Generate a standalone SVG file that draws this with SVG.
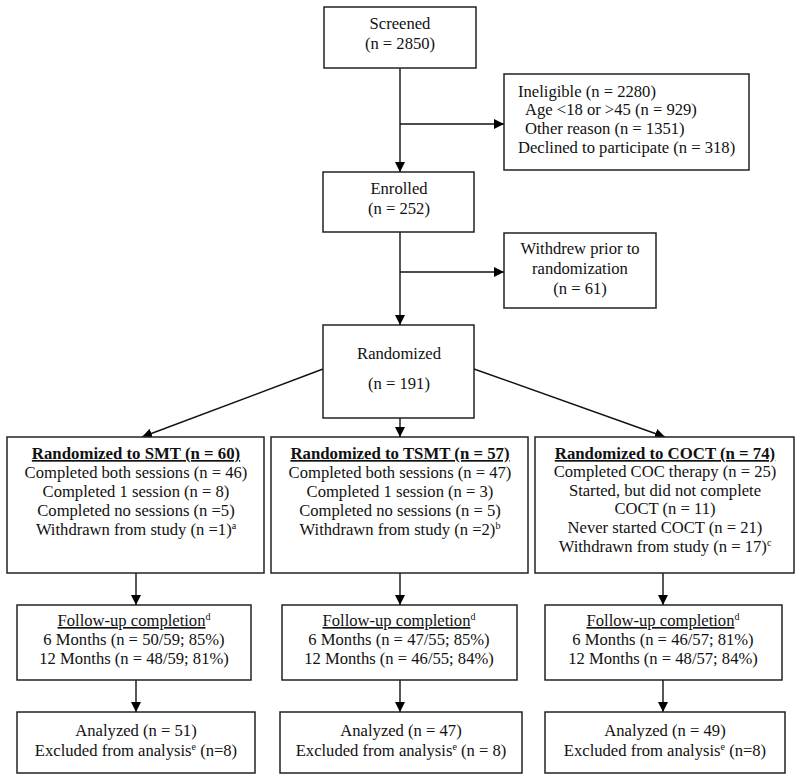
<svg xmlns="http://www.w3.org/2000/svg" width="800" height="782" viewBox="0 0 800 782">
<defs>
<marker id="ah" viewBox="0 0 10 10" refX="10" refY="5" markerWidth="10" markerHeight="10" markerUnits="userSpaceOnUse" orient="auto">
<path d="M0,0 L10,5 L0,10 Z" fill="#000"/>
</marker>
</defs>
<style>
.box{fill:#fff;stroke:#222;stroke-width:1.5}
text{font-family:"Liberation Serif","Times New Roman",serif;font-size:16.6px;fill:#111}
.c{text-anchor:middle}
.b{font-weight:bold;font-size:16.8px;text-decoration:underline}
.u{text-decoration:underline}
.sup{font-size:10px}
#connectors line{stroke:#111;stroke-width:1.4;fill:none}
.arr{marker-end:url(#ah)}
</style>
<g id="connectors">
<line x1="400" y1="68" x2="400" y2="172" class="arr"/>
<line x1="400" y1="124" x2="504" y2="124" class="arr"/>
<line x1="400" y1="232" x2="400" y2="325" class="arr"/>
<line x1="400" y1="272" x2="504" y2="272" class="arr"/>
<line x1="323" y1="369" x2="142" y2="437" class="arr"/>
<line x1="400" y1="418" x2="400" y2="437" class="arr"/>
<line x1="474" y1="369" x2="665" y2="437" class="arr"/>
<line x1="136" y1="573" x2="136" y2="605" class="arr"/>
<line x1="400" y1="573" x2="400" y2="605" class="arr"/>
<line x1="663" y1="573" x2="663" y2="605" class="arr"/>
<line x1="136" y1="680" x2="136" y2="712" class="arr"/>
<line x1="400" y1="680" x2="400" y2="712" class="arr"/>
<line x1="663" y1="680" x2="663" y2="712" class="arr"/>
</g>
<g id="screened">
<rect class="box" x="324" y="7" width="152" height="61"/>
<text class="c" x="400" y="29">Screened</text>
<text class="c" x="400" y="49">(n = 2850)</text>
</g>
<g id="ineligible">
<rect class="box" x="504" y="74" width="245" height="96"/>
<text x="518" y="97">Ineligible (n = 2280)</text>
<text x="525" y="115">Age &lt;18 or &gt;45 (n = 929)</text>
<text x="525" y="134">Other reason (n = 1351)</text>
<text x="518" y="153">Declined to participate (n = 318)</text>
</g>
<g id="enrolled">
<rect class="box" x="323" y="172" width="151" height="60"/>
<text class="c" x="399" y="194">Enrolled</text>
<text class="c" x="399" y="214">(n = 252)</text>
</g>
<g id="withdrew">
<rect class="box" x="504" y="233" width="152" height="75"/>
<text class="c" x="580" y="254">Withdrew prior to</text>
<text class="c" x="580" y="274">randomization</text>
<text class="c" x="580" y="294">(n = 61)</text>
</g>
<g id="randomized">
<rect class="box" x="323" y="325" width="151" height="93"/>
<text class="c" x="399" y="359">Randomized</text>
<text class="c" x="399" y="389">(n = 191)</text>
</g>
<g id="smt">
<rect class="box" x="7" y="437" width="257" height="136"/>
<text class="c b" x="136" y="459">Randomized to SMT (n = 60)</text>
<text class="c" x="136" y="478">Completed both sessions (n = 46)</text>
<text class="c" x="136" y="497">Completed 1 session (n = 8)</text>
<text class="c" x="136" y="516">Completed no sessions (n =5)</text>
<text class="c" x="136" y="535">Withdrawn from study (n =1)<tspan class="sup" dy="-6">a</tspan></text>
</g>
<g id="tsmt">
<rect class="box" x="271" y="437" width="257" height="136"/>
<text class="c b" x="400" y="459">Randomized to TSMT (n = 57)</text>
<text class="c" x="400" y="478">Completed both sessions (n = 47)</text>
<text class="c" x="400" y="497">Completed 1 session (n = 3)</text>
<text class="c" x="400" y="516">Completed no sessions (n = 5)</text>
<text class="c" x="400" y="535">Withdrawn from study (n =2)<tspan class="sup" dy="-6">b</tspan></text>
</g>
<g id="coct">
<rect class="box" x="535" y="437" width="259" height="136"/>
<text class="c b" x="665" y="459">Randomized to COCT (n = 74)</text>
<text class="c" x="665" y="477">Completed COC therapy (n = 25)</text>
<text class="c" x="665" y="496">Started, but did not complete</text>
<text class="c" x="665" y="514">COCT (n = 11)</text>
<text class="c" x="665" y="533">Never started COCT (n = 21)</text>
<text class="c" x="665" y="552">Withdrawn from study (n = 17)<tspan class="sup" dy="-6">c</tspan></text>
</g>
<g id="followup-smt">
<rect class="box" x="17" y="605" width="234" height="75"/>
<text class="c" x="134" y="626"><tspan class="u">Follow-up completion</tspan><tspan class="sup" dy="-6">d</tspan></text>
<text class="c" x="134" y="645">6 Months (n = 50/59; 85%)</text>
<text class="c" x="134" y="664">12 Months (n = 48/59; 81%)</text>
</g>
<g id="followup-tsmt">
<rect class="box" x="282" y="605" width="235" height="75"/>
<text class="c" x="399" y="626"><tspan class="u">Follow-up completion</tspan><tspan class="sup" dy="-6">d</tspan></text>
<text class="c" x="399" y="645">6 Months (n = 47/55; 85%)</text>
<text class="c" x="399" y="664">12 Months (n = 46/55; 84%)</text>
</g>
<g id="followup-coct">
<rect class="box" x="545" y="605" width="237" height="75"/>
<text class="c" x="663" y="626"><tspan class="u">Follow-up completion</tspan><tspan class="sup" dy="-6">d</tspan></text>
<text class="c" x="663" y="645">6 Months (n = 46/57; 81%)</text>
<text class="c" x="663" y="664">12 Months (n = 48/57; 84%)</text>
</g>
<g id="analyzed-smt">
<rect class="box" x="17" y="712" width="238" height="61"/>
<text class="c" x="136" y="736">Analyzed (n = 51)</text>
<text class="c" x="136" y="756">Excluded from analysis<tspan class="sup" dy="-6">e</tspan><tspan dy="6"> (n=8)</tspan></text>
</g>
<g id="analyzed-tsmt">
<rect class="box" x="280" y="712" width="242" height="61"/>
<text class="c" x="401" y="736">Analyzed (n = 47)</text>
<text class="c" x="401" y="756">Excluded from analysis<tspan class="sup" dy="-6">e</tspan><tspan dy="6"> (n = 8)</tspan></text>
</g>
<g id="analyzed-coct">
<rect class="box" x="545" y="712" width="240" height="61"/>
<text class="c" x="665" y="736">Analyzed (n = 49)</text>
<text class="c" x="665" y="756">Excluded from analysis<tspan class="sup" dy="-6">e</tspan><tspan dy="6"> (n=8)</tspan></text>
</g>
</svg>
